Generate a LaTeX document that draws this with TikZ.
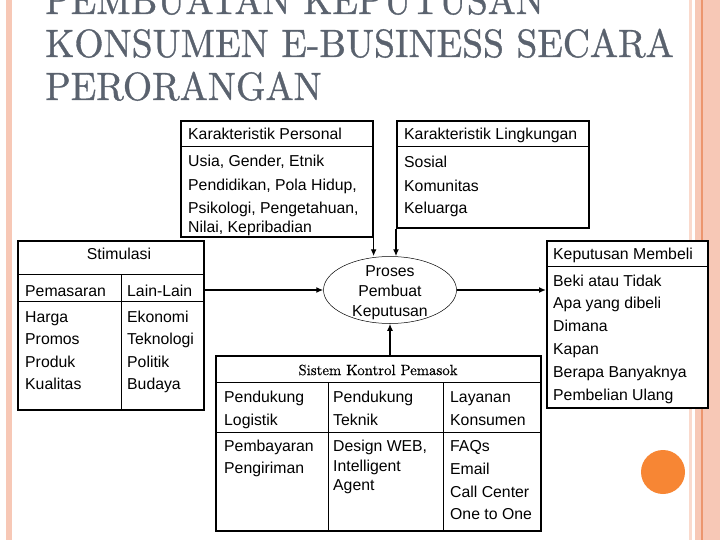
\documentclass[tikz,border=0pt]{standalone}
\usepackage{fontspec}
\newfontfamily\arialf{Liberation Sans}
\newfontfamily\titlef{lmroman10-regular}[Extension=.otf, FakeBold=0.9]
\newfontfamily\headf{lmroman10-regular}[Extension=.otf, FakeBold=0.5]
\usetikzlibrary{arrows.meta,shapes.geometric}
\definecolor{stripe}{RGB}{247,200,182}
\definecolor{stripepale}{RGB}{250,218,205}
\definecolor{stripeline}{RGB}{236,150,110}
\definecolor{titlegray}{RGB}{90,98,110}
\definecolor{dotorange}{RGB}{247,134,52}
\begin{document}
\begin{tikzpicture}[x=1pt,y=-1pt,
  box/.style={draw, line width=1.6pt, fill=white, inner sep=0pt, anchor=north west},
  sepline/.style={line width=0.9pt},
  txt/.style={font=\arialf\fontsize{15.8}{19}\selectfont, inner sep=0pt, anchor=mid west, yshift=-3pt},
  arr/.style={line width=1.6pt, -{Latex[length=7pt,width=6pt]}},
  ttl/.style={font=\titlef\fontsize{39.5}{43}\selectfont, text=titlegray, inner sep=0pt, anchor=base west}]
\clip (0,0) rectangle (720,540);
\fill[white] (0,0) rectangle (720,540);
% decorative stripes
\fill[stripe] (6,0) rectangle (12,540);
\fill[stripepale] (689,0) rectangle (692,540);
\fill[stripe] (695,0) rectangle (720,540);
\fill[stripeline] (701,0) rectangle (703,540);
\fill[dotorange] (663,472) circle (22);
% title
\node[ttl] (title1) at (45,14) {\scalebox{0.95}[1]{PEMBUATAN KEPUTUSAN}};
\node[ttl] (title2) at (45,57) {\scalebox{0.95}[1]{KONSUMEN E-BUSINESS SECARA}};
\node[ttl] (title3) at (45,100) {\scalebox{0.95}[1]{PERORANGAN}};
% boxes
\node[box, minimum width=192pt, minimum height=116pt] (pers) at (180,120) {};
\node[box, minimum width=192pt, minimum height=107pt] (ling) at (396,120) {};
\node[box, minimum width=186pt, minimum height=169pt] (stim) at (17,240) {};
\node[box, minimum width=161pt, minimum height=167pt] (keb) at (546,240) {};
\node[box, minimum width=325pt, minimum height=175pt] (sis) at (215,355) {};
\node[draw, ellipse, line width=0.5pt, fill=white, minimum width=133pt, minimum height=67pt, inner sep=0pt] (proc) at (390,290) {};
% separators
\draw[sepline] (pers.west |- 0,146) -- (pers.east |- 0,146);
\draw[sepline] (ling.west |- 0,146) -- (ling.east |- 0,146);
\draw[sepline] (stim.west |- 0,274) -- (stim.east |- 0,274);
\draw[sepline] (stim.west |- 0,301) -- (stim.east |- 0,301);
\draw[sepline] (121,274) -- (stim.south -| 121,0);
\draw[sepline] (keb.west |- 0,266) -- (keb.east |- 0,266);
\draw[sepline] (sis.west |- 0,382) -- (sis.east |- 0,382);
\draw[sepline] (sis.west |- 0,432) -- (sis.east |- 0,432);
\draw[sepline] (328,382) -- (sis.south -| 328,0);
\draw[sepline] (443,382) -- (sis.south -| 443,0);
% arrows
\draw[arr] (pers.south east) -- (pers.south east |- proc.north);
\draw[arr] (ling.south west) -- (ling.south west |- proc.north);
\draw[arr] (stim.north east |- proc.west) -- (proc.west);
\draw[arr] (proc.east) -- (keb.north west |- proc.east);
\draw[arr] (proc.south |- sis.north) -- (proc.south);
% ellipse text
\node[font=\arialf\fontsize{15.8}{19.8}\selectfont, align=center, inner sep=0pt] (proctext) at (390,293) {Proses\\Pembuat\\Keputusan};
% personal
\node[txt] (p0) at (188,134) {Karakteristik Personal};
\node[txt] (p1) at (188,161) {Usia, Gender, Etnik};
\node[txt] (p2) at (188,185) {Pendidikan, Pola Hidup,};
\node[txt] (p3) at (188,208) {Psikologi, Pengetahuan,};
\node[txt] (p4) at (188,227) {Nilai, Kepribadian};
% lingkungan
\node[txt] (l0) at (404,134) {Karakteristik Lingkungan};
\node[txt] (l1) at (404,162) {Sosial};
\node[txt] (l2) at (404,186) {Komunitas};
\node[txt] (l3) at (404,208) {Keluarga};
% stimulasi
\node[txt, anchor=mid] (s0) at (119,254) {Stimulasi};
\node[txt] (s1) at (25,291) {Pemasaran};
\node[txt] (s2) at (25,317) {Harga};
\node[txt] (s3) at (25,339) {Promos};
\node[txt] (s4) at (25,362) {Produk};
\node[txt] (s5) at (25,384) {Kualitas};
\node[txt] (t1) at (127,291) {Lain-Lain};
\node[txt] (t2) at (127,317) {Ekonomi};
\node[txt] (t3) at (127,339) {Teknologi};
\node[txt] (t4) at (127,362) {Politik};
\node[txt] (t5) at (127,384) {Budaya};
% keputusan membeli
\node[txt] (k0) at (553,254) {Keputusan Membeli};
\node[txt] (k1) at (553,281) {Beki atau Tidak};
\node[txt] (k2) at (553,303) {Apa yang dibeli};
\node[txt] (k3) at (553,326) {Dimana};
\node[txt] (k4) at (553,349) {Kapan};
\node[txt] (k5) at (553,372) {Berapa Banyaknya};
\node[txt] (k6) at (553,395) {Pembelian Ulang};
% sistem kontrol
\node[font=\headf\fontsize{14.8}{18}\selectfont, inner sep=0pt] (c0) at (378,370) {Sistem Kontrol Pemasok};
\node[txt] (a1) at (224,397) {Pendukung};
\node[txt] (a2) at (224,420) {Logistik};
\node[txt] (a3) at (224,446) {Pembayaran};
\node[txt] (a4) at (224,468) {Pengiriman};
\node[txt] (b1) at (333,397) {Pendukung};
\node[txt] (b2) at (333,420) {Teknik};
\node[txt] (b3) at (333,446) {Design WEB,};
\node[txt] (b4) at (333,466) {Intelligent};
\node[txt] (b5) at (333,485) {Agent};
\node[txt] (d1) at (450,397) {Layanan};
\node[txt] (d2) at (450,420) {Konsumen};
\node[txt] (d3) at (450,446) {FAQs};
\node[txt] (d4) at (450,469) {Email};
\node[txt] (d5) at (450,492) {Call Center};
\node[txt] (d6) at (450,514) {One to One};
\end{tikzpicture}
\end{document}
